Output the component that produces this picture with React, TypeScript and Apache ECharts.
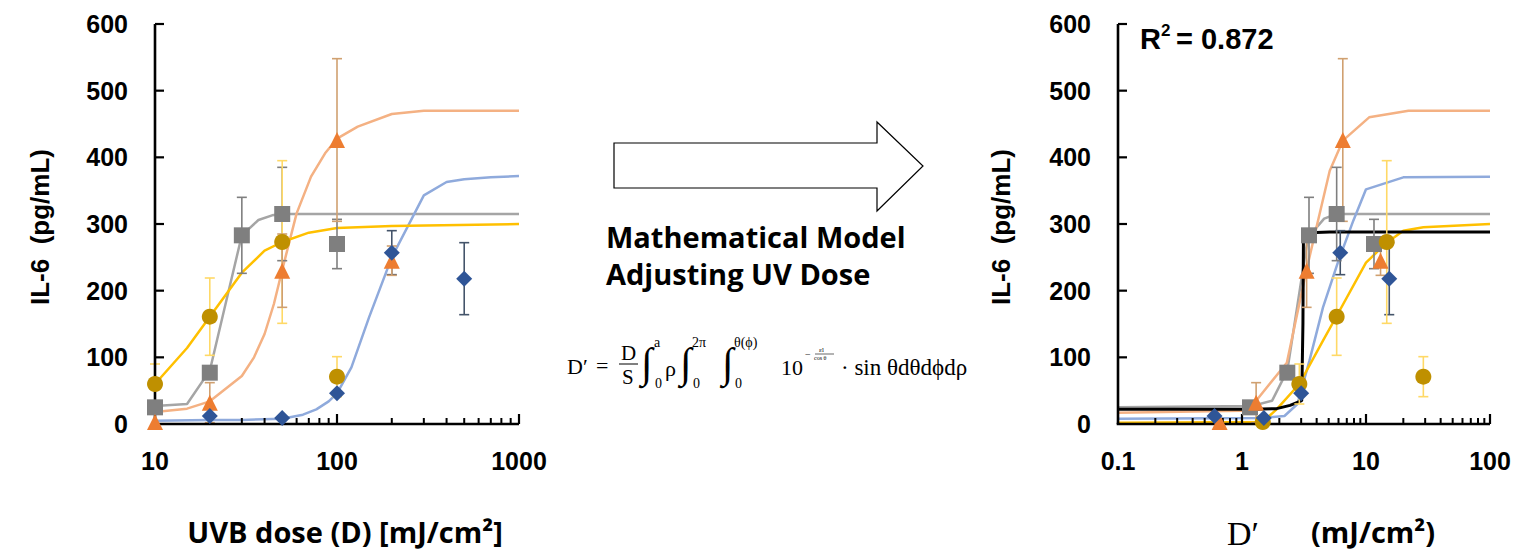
import React, { useEffect, useRef } from "react";
import * as echarts from "echarts";

// ---------- data: left panel (UVB dose D) ----------
const leftBlueX = [20, 50, 100, 200, 500];
const leftBlueY = [12, 9, 46, 257, 218];
const leftBlueErr = [0, 0, 0, 33, 54];

const leftGrayX = [10, 20, 30, 50, 100];
const leftGrayY = [25, 77, 283, 315, 270];
const leftGrayErr = [0, 8, 57, 70, 37];

const leftGoldX = [10, 20, 50, 100];
const leftGoldY = [60, 161, 273, 71];
const leftGoldErr = [30, 58, 122, 30];

const leftOrangeX = [10, 20, 50, 100, 200];
const leftOrangeY = [3, 32, 230, 426, 245];
const leftOrangeErr = [0, 30, 55, 122, 22];

const leftBlueFit = [[10, 5], [20, 6], [30, 6], [50, 8], [65, 14], [77, 22], [90, 34], [100, 46], [120, 85], [150, 160], [200, 250], [300, 343], [400, 363], [500, 367], [700, 370], [1000, 372]];
const leftGrayFit = [[10, 27], [15, 30], [20, 80], [25, 192], [30, 283], [37, 306], [44, 313], [50, 315], [100, 315], [1000, 315]];
const leftGoldFit = [[10, 60], [15, 114], [20, 161], [30, 227], [40, 260], [50, 273], [70, 287], [100, 294], [200, 297], [1000, 300]];
const leftOrangeFit = [[10, 18], [15, 23], [20, 34], [30, 72], [35, 100], [40, 135], [45, 180], [50, 231], [60, 316], [72, 371], [86, 406], [100, 428], [130, 446], [200, 465], [300, 470], [1000, 470]];

// ---------- data: right panel (adjusted dose D') ----------
const rightBlueX = [0.6, 1.5, 3.0, 6.2, 15.4];
const rightBlueY = [12, 9, 46, 257, 218];
const rightBlueErr = [0, 0, 0, 33, 54];

const rightGrayX = [1.16, 2.32, 3.47, 5.8, 11.6];
const rightGrayY = [25, 77, 283, 315, 270];
const rightGrayErr = [0, 8, 57, 70, 37];

const rightGoldX = [1.47, 2.9, 5.8, 14.7, 29];
const rightGoldY = [3, 60, 161, 273, 71];
const rightGoldErr = [0, 30, 58, 122, 30];

const rightOrangeX = [0.66, 1.3, 3.32, 6.5, 13.1];
const rightOrangeY = [3, 32, 230, 426, 245];
const rightOrangeErr = [0, 30, 55, 122, 22];

const rightGrayFit = [[0.1, 25], [1.2, 27], [1.75, 35], [2.32, 80], [3.4, 280], [4.6, 308], [5.8, 315], [100, 315]];
const rightOrangeFit = [[0.1, 17], [1.0, 20], [1.3, 35], [2.3, 92], [3.3, 230], [5.1, 380], [6.5, 425], [10.6, 460], [22, 470], [100, 470]];
const rightBlueFit = [[0.1, 8], [1.4, 9], [2.2, 12], [2.8, 30], [3.5, 95], [4.5, 175], [6, 245], [7.9, 305], [10, 352], [20, 370], [100, 371]];
const rightGoldFit = [[0.1, 2], [1.47, 3], [1.9, 22], [2.9, 60], [4.5, 125], [5.8, 162], [10, 242], [14.7, 272], [20, 290], [29, 295], [100, 300]];
const rightBlackFit = [[0.1, 22], [1.2, 22], [1.9, 23], [2.44, 28], [3.03, 35], [3.1, 150], [3.13, 279], [3.5, 287], [5.1, 288], [100, 288]];

// ---------- axes ----------
const leftXRange = [10, 1000];
const rightXRange = [0.1, 100];
const yRange = [0, 600];
const yStep = 100;
const yTicks = [100, 200, 300, 400, 500, 600];
const leftMajorTicks = [100, 1000];
const rightMajorTicks = [1, 10, 100];
const leftMinorTicks = [20, 30, 40, 50, 60, 70, 80, 90, 200, 300, 400, 500, 600, 700, 800, 900];
const rightMinorTicks = [0.2, 0.3, 0.4, 0.5, 0.6, 0.7, 0.8, 0.9, 2, 3, 4, 5, 6, 7, 8, 9, 20, 30, 40, 50, 60, 70, 80, 90];

const yTitle = "IL-6  (pg/mL)";
const leftXTitle = "UVB dose (D) [mJ/cm²]";
const rightXTitleSym = "D′";
const rightXTitleUnit = "(mJ/cm²)";
const r2Base = "R";
const r2Sup = "2";
const r2Rest = "= 0.872";
const modelLine1 = "Mathematical Model";
const modelLine2 = "Adjusting UV Dose";

const C = {
  blue: "#2F5597", blueFit: "#8FAADC", blueErr: "#44546A",
  gray: "#7F7F7F", grayFit: "#A5A5A5", grayErr: "#7F7F7F",
  gold: "#BF9000", goldFit: "#FFC000", goldErr: "#FFD966",
  orange: "#ED7D31", orangeFit: "#F4B183", orangeErr: "#D0A070",
};

const TICK_FONT = "Liberation Sans";
const TITLE_FONT = "Open Sans";
const SERIF = "Liberation Serif";

function fmt(v: number) {
  return String(parseFloat(Number(v).toPrecision(6)));
}

function makeAxes(gi: number, range: number[]) {
  return {
    x: {
      type: "log", logBase: 10, gridIndex: gi, min: range[0], max: range[1],
      axisLine: { show: false, onZero: false },
      axisTick: { show: false },
      minorTick: { show: false },
      splitLine: { show: false },
      axisLabel: {
        show: true, margin: 24, color: "#000", fontFamily: TICK_FONT, fontWeight: "bold", fontSize: 25,
        formatter: fmt, hideOverlap: false, showMinLabel: true, showMaxLabel: true,
      },
    },
    y: {
      type: "value", gridIndex: gi, min: yRange[0], max: yRange[1], interval: yStep,
      axisLine: { show: false, onZero: false },
      axisTick: { show: false },
      splitLine: { show: false },
      axisLabel: { show: true, margin: 27, color: "#000", fontFamily: TICK_FONT, fontWeight: "bold", fontSize: 25 },
    },
  };
}

function fitSeries(ai: number, data: number[][], color: string, width = 2.5) {
  return {
    type: "line", xAxisIndex: ai, yAxisIndex: ai, data, showSymbol: false, symbol: "none",
    smooth: false, lineStyle: { color, width }, silent: true, z: 2,
  };
}

function errSeries(ai: number, xs: number[], ys: number[], errs: number[], color: string) {
  const data = xs.map((x, i) => [x, ys[i] - errs[i], ys[i] + errs[i], errs[i]]).filter((d) => d[3] > 0);
  return {
    type: "custom", xAxisIndex: ai, yAxisIndex: ai, data, silent: true, z: 3,
    encode: { x: 0, y: [1, 2] },
    renderItem: (_p: any, api: any) => {
      const x = api.value(0);
      const lo = api.coord([x, api.value(1)]);
      const hi = api.coord([x, api.value(2)]);
      const w = 5;
      const st = { stroke: color, lineWidth: 1.6 };
      return {
        type: "group",
        children: [
          { type: "line", shape: { x1: lo[0], y1: lo[1], x2: hi[0], y2: hi[1] }, style: st },
          { type: "line", shape: { x1: lo[0] - w, y1: lo[1], x2: lo[0] + w, y2: lo[1] }, style: st },
          { type: "line", shape: { x1: hi[0] - w, y1: hi[1], x2: hi[0] + w, y2: hi[1] }, style: st },
        ],
      };
    },
  };
}

function markSeries(ai: number, xs: number[], ys: number[], symbol: string, size: number | number[], color: string) {
  return {
    type: "scatter", xAxisIndex: ai, yAxisIndex: ai, data: xs.map((x, i) => [x, ys[i]]),
    symbol, symbolSize: size, itemStyle: { color, opacity: 1 }, silent: true, z: 5, clip: false,
  };
}

// axis lines and ticks, placed with the grid's own convertToPixel (library scales)
function frameGraphics(chart: any, gi: number, xr: number[], major: number[], minor: number[]) {
  const px = (v: number[]) => chart.convertToPixel({ gridIndex: gi }, v);
  const o = px([xr[0], yRange[0]]);
  const xe = px([xr[1], yRange[0]]);
  const ye = px([xr[0], yRange[1]]);
  const st = { stroke: "#000", lineWidth: 2.6 };
  const els: any[] = [
    { id: `ax${gi}`, type: "line", silent: true, z: 4, shape: { x1: o[0] - 1.3, y1: o[1], x2: xe[0], y2: xe[1] }, style: st },
    { id: `ay${gi}`, type: "line", silent: true, z: 4, shape: { x1: o[0], y1: o[1], x2: ye[0], y2: ye[1] }, style: st },
  ];
  major.forEach((m, i) => {
    const p = px([m, yRange[0]]);
    els.push({ id: `mj${gi}_${i}`, type: "line", silent: true, z: 4, shape: { x1: p[0], y1: p[1], x2: p[0], y2: p[1] - 10 }, style: { stroke: "#000", lineWidth: 2.2 } });
  });
  minor.forEach((m, i) => {
    const p = px([m, yRange[0]]);
    els.push({ id: `mn${gi}_${i}`, type: "line", silent: true, z: 4, shape: { x1: p[0], y1: p[1], x2: p[0], y2: p[1] - 6 }, style: { stroke: "#000", lineWidth: 2 } });
  });
  yTicks.forEach((v, i) => {
    const p = px([xr[0], v]);
    els.push({ id: `yt${gi}_${i}`, type: "line", silent: true, z: 4, shape: { x1: p[0], y1: p[1], x2: p[0] + 9, y2: p[1] }, style: { stroke: "#000", lineWidth: 2.2 } });
  });
  return els;
}

function buildOption() {
  const a0 = makeAxes(0, leftXRange);
  const a1 = makeAxes(1, rightXRange);
  const series: any[] = [
    fitSeries(0, leftGrayFit, C.grayFit),
    fitSeries(0, leftOrangeFit, C.orangeFit),
    fitSeries(0, leftBlueFit, C.blueFit),
    fitSeries(0, leftGoldFit, C.goldFit),
    fitSeries(1, rightGrayFit, C.grayFit),
    fitSeries(1, rightOrangeFit, C.orangeFit),
    fitSeries(1, rightBlueFit, C.blueFit),
    fitSeries(1, rightGoldFit, C.goldFit),
    fitSeries(1, rightBlackFit, "#000", 3),
    errSeries(0, leftBlueX, leftBlueY, leftBlueErr, C.blueErr),
    errSeries(0, leftGrayX, leftGrayY, leftGrayErr, C.grayErr),
    errSeries(0, leftGoldX, leftGoldY, leftGoldErr, C.goldErr),
    errSeries(0, leftOrangeX, leftOrangeY, leftOrangeErr, C.orangeErr),
    errSeries(1, rightBlueX, rightBlueY, rightBlueErr, C.blueErr),
    errSeries(1, rightGrayX, rightGrayY, rightGrayErr, C.grayErr),
    errSeries(1, rightGoldX, rightGoldY, rightGoldErr, C.goldErr),
    errSeries(1, rightOrangeX, rightOrangeY, rightOrangeErr, C.orangeErr),
    markSeries(0, leftGrayX, leftGrayY, "rect", 16, C.gray),
    markSeries(0, leftGoldX, leftGoldY, "circle", 16, C.gold),
    markSeries(0, leftOrangeX, leftOrangeY, "triangle", 16, C.orange),
    markSeries(0, leftBlueX, leftBlueY, "diamond", 16, C.blue),
    markSeries(1, rightGrayX, rightGrayY, "rect", 16, C.gray),
    markSeries(1, rightGoldX, rightGoldY, "circle", 16, C.gold),
    markSeries(1, rightOrangeX, rightOrangeY, "triangle", 16, C.orange),
    markSeries(1, rightBlueX, rightBlueY, "diamond", 16, C.blue),
  ];

  let k = 0;
  const t = (text: string, x: number, y: number, size: number, opts: any = {}) => ({
    id: `txt${k++}`, type: "text", x, y, silent: true, rotation: opts.rotation || 0,
    style: {
      text, fontSize: size, lineHeight: size, fontFamily: opts.family || SERIF, fontWeight: opts.weight || "normal",
      fill: "#000", textAlign: opts.align || "left", textVerticalAlign: opts.valign || "middle",
    },
  });

  const graphic: any[] = [
    t(yTitle, 40, 227, 26, { family: TICK_FONT, weight: "bold", align: "center", rotation: Math.PI / 2 }),
    t(yTitle, 1001, 227, 26, { family: TICK_FONT, weight: "bold", align: "center", rotation: Math.PI / 2 }),
    t(leftXTitle, 345, 531, 29, { family: TITLE_FONT, weight: "bold", align: "center" }),
    t(rightXTitleSym, 1227, 533, 34, { family: SERIF }),
    t(rightXTitleUnit, 1311, 531, 29, { family: TITLE_FONT, weight: "bold" }),
    t(r2Base, 1140, 39, 29, { family: TICK_FONT, weight: "bold" }),
    t(r2Sup, 1161, 30, 17, { family: TICK_FONT, weight: "bold" }),
    t(r2Rest, 1176, 39, 29, { family: TICK_FONT, weight: "bold" }),
    {
      id: "arrow", type: "polygon", silent: true,
      shape: { points: [[614, 143], [877, 143], [877, 122], [923, 166], [877, 211], [877, 188], [614, 188]] },
      style: { fill: "#fff", stroke: "#000", lineWidth: 1.2 },
    },
    t(modelLine1, 606, 236, 29, { family: TITLE_FONT, weight: "bold" }),
    t(modelLine2, 606, 273, 29, { family: TITLE_FONT, weight: "bold" }),
    t("D′", 567, 366, 22),
    t("=", 596, 365, 22),
    t("D", 621, 353, 21),
    { id: "fbar", type: "line", silent: true, shape: { x1: 619, y1: 364, x2: 638, y2: 364 }, style: { stroke: "#000", lineWidth: 1 } },
    t("S", 622, 377, 21),
    t("∫", 641, 363, 42),
    t("a", 654, 342, 14),
    t("0", 655, 383, 14),
    t("ρ", 665, 368, 22),
    t("∫", 680, 363, 42),
    t("2π", 692, 342, 14),
    t("0", 693, 383, 14),
    t("∫", 722, 363, 42),
    t("θ(ϕ)", 734, 342, 14),
    t("0", 735, 383, 14),
    t("10", 781, 367, 22),
    t("−", 805, 354, 10),
    t("εl", 819, 350, 7),
    { id: "ebar", type: "line", silent: true, shape: { x1: 815, y1: 354, x2: 834, y2: 354 }, style: { stroke: "#000", lineWidth: 0.6 } },
    t("cos θ", 814, 358, 6),
    t("· sin θdθdϕdρ", 841, 367, 23),
  ];

  return {
    animation: false,
    backgroundColor: "#fff",
    grid: [
      { left: 155, top: 24, width: 364, height: 400, containLabel: false },
      { left: 1118, top: 24, width: 372, height: 400, containLabel: false },
    ],
    xAxis: [a0.x, a1.x],
    yAxis: [a0.y, a1.y],
    series,
    graphic,
  };
}

export default function App() {
  const ref = useRef<HTMLDivElement>(null);
  useEffect(() => {
    if (!ref.current) return;
    const chart = echarts.init(ref.current, undefined, { renderer: "svg" });
    const option: any = buildOption();
    chart.setOption(option);
    const extra = [
      ...frameGraphics(chart, 0, leftXRange, leftMajorTicks, leftMinorTicks),
      ...frameGraphics(chart, 1, rightXRange, rightMajorTicks, rightMinorTicks),
    ];
    chart.setOption({ graphic: [...option.graphic, ...extra] });
    return () => chart.dispose();
  }, []);
  return <div ref={ref} style={{ position: "absolute", left: 0, top: 0, width: 1516, height: 560, background: "#fff" }} />;
}
